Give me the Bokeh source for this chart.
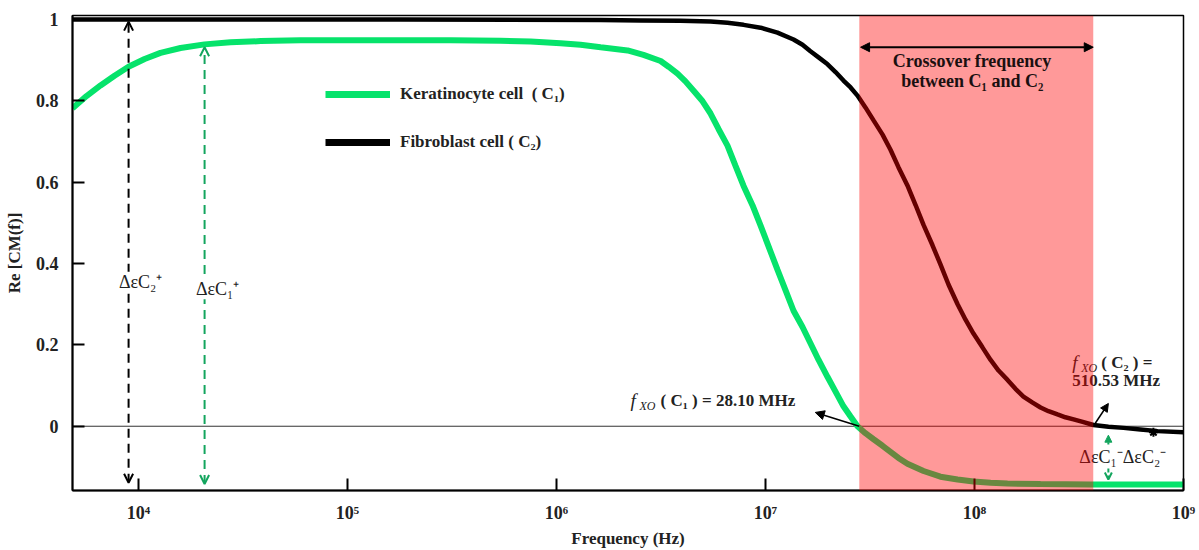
from bokeh.plotting import figure
from bokeh.models import (Range1d, FixedTicker, CustomJSTickFormatter, Legend, LegendItem,
                          Label, Arrow, OpenHead, NormalHead, BoxAnnotation, Span)
from bokeh.embed import file_html
from bokeh.resources import INLINE

# ---- data (frequency as log10(Hz)) ----
log_freq_c1 = [3.684, 3.751, 3.818, 3.885, 3.952, 4.029, 4.105, 4.201, 4.316, 4.440,
               4.584, 4.775, 5.014, 5.493, 5.732, 5.876, 6.019, 6.115, 6.211, 6.340,
               6.416, 6.498, 6.536, 6.579, 6.617, 6.656, 6.699, 6.737, 6.775, 6.818,
               6.856, 6.895, 6.938, 6.976, 7.014, 7.057, 7.096, 7.134, 7.177, 7.215,
               7.254, 7.297, 7.335, 7.373, 7.407, 7.440, 7.478, 7.517, 7.560, 7.598,
               7.636, 7.679, 7.756, 7.837, 7.919, 7.995, 8.077, 8.158, 8.316, 8.555, 9.000]
re_cm_c1 = [0.782, 0.812, 0.838, 0.862, 0.884, 0.903, 0.918, 0.930, 0.939, 0.944,
            0.947, 0.949, 0.949, 0.949, 0.948, 0.946, 0.942, 0.938, 0.932, 0.924,
            0.913, 0.898, 0.884, 0.867, 0.848, 0.825, 0.799, 0.769, 0.731, 0.690,
            0.641, 0.591, 0.543, 0.494, 0.443, 0.385, 0.334, 0.284, 0.244, 0.204,
            0.163, 0.121, 0.085, 0.049, 0.024, 0.000, -0.017, -0.032, -0.048, -0.063,
            -0.078, -0.092, -0.110, -0.124, -0.131, -0.136, -0.139, -0.141, -0.142, -0.143, -0.143]

log_freq_c2 = [3.684, 5.254, 6.211, 6.402, 6.593, 6.737, 6.818, 6.895, 6.976, 7.057,
               7.134, 7.177, 7.215, 7.254, 7.297, 7.335, 7.373, 7.407, 7.440, 7.478,
               7.517, 7.560, 7.598, 7.636, 7.679, 7.718, 7.756, 7.799, 7.837, 7.876,
               7.919, 7.957, 7.995, 8.038, 8.077, 8.115, 8.158, 8.196, 8.234, 8.278,
               8.316, 8.354, 8.397, 8.435, 8.474, 8.522, 8.569, 8.641, 8.713, 8.794, 8.876, 9.000]
re_cm_c2 = [1.000, 1.000, 0.999, 0.998, 0.997, 0.995, 0.992, 0.987, 0.980, 0.968,
            0.951, 0.938, 0.922, 0.907, 0.890, 0.871, 0.850, 0.833, 0.813, 0.784,
            0.752, 0.717, 0.680, 0.637, 0.592, 0.544, 0.495, 0.445, 0.398, 0.348,
            0.300, 0.262, 0.228, 0.194, 0.163, 0.137, 0.114, 0.092, 0.073, 0.058,
            0.046, 0.037, 0.029, 0.022, 0.017, 0.010, 0.003, -0.001, -0.004, -0.008, -0.012, -0.015]

freq_c1 = [10 ** v for v in log_freq_c1]
freq_c2 = [10 ** v for v in log_freq_c2]

x_ticks = [1e4, 1e5, 1e6, 1e7, 1e8, 1e9]
y_ticks = [0, 0.2, 0.4, 0.6, 0.8, 1]

fxo_c1_hz = 28.10e6          # crossover of C1 (left edge of band)
band_right_hz = 3.7e8        # right edge of shaded band (as drawn)
de_c2_plus_hz = 8.96e3       # position of ΔεC2+ arrow
de_c1_plus_hz = 2.07e4       # position of ΔεC1+ arrow
de_minus_hz = 4.37e8         # position of ΔεC1- arrow
de_c2_minus_hz = 7.18e8      # ΔεC2- marker
c1_high, c1_low = 0.932, -0.142
c2_high, c2_low = 0.995, -0.139

FONT = "Liberation Serif"
GREEN = "#06e36b"
DGREEN = "#13a55e"
TXT = "#222222"
NAN = float("nan")

p = figure(width=1199, height=550, x_axis_type="log",
           x_range=Range1d(4.83e3, 1e9), y_range=Range1d(-0.158, 1.01),
           output_backend="svg", toolbar_location=None,
           min_border_left=72, min_border_right=16, min_border_top=15, min_border_bottom=54)
p.grid.visible = False
p.outline_line_color = "black"
p.outline_line_width = 1.5
p.background_fill_color = "white"

# zero line
p.add_layout(Span(location=0, dimension="width", line_color="#333333", line_width=1, level="underlay"))

g = p.line(freq_c1, re_cm_c1, line_color=GREEN, line_width=6)
b = p.line(freq_c2, re_cm_c2, line_color="black", line_width=4.5)
# legend swatches (thicker, nothing drawn in the plot)
g_leg = p.line([NAN], [NAN], line_color=GREEN, line_width=7)
b_leg = p.line([NAN], [NAN], line_color="black", line_width=7)

# axes
for ax in (p.xaxis[0], p.yaxis[0]):
    ax.axis_line_width = 2
    ax.axis_line_color = "black"
    ax.major_tick_in = 12
    ax.major_tick_out = 0
    ax.major_tick_line_width = 2
    ax.minor_tick_line_color = None
    ax.major_label_text_font = FONT
    ax.major_label_text_font_style = "bold"
    ax.major_label_text_font_size = "18px"
    ax.major_label_text_color = TXT
    ax.axis_label_text_font = FONT
    ax.axis_label_text_font_style = "bold"
    ax.axis_label_text_font_size = "17px"
    ax.axis_label_text_color = TXT
    ax.major_label_standoff = 12

p.xaxis.ticker = FixedTicker(ticks=x_ticks, minor_ticks=[])
p.xaxis.formatter = CustomJSTickFormatter(code="""
const sup = {"0":"\u2070","1":"\u00b9","2":"\u00b2","3":"\u00b3","4":"\u2074","5":"\u2075",
             "6":"\u2076","7":"\u2077","8":"\u2078","9":"\u2079"};
const e = String(Math.round(Math.log10(tick)));
return "10" + e.split("").map(c => sup[c]).join("");
""")
p.xaxis.axis_label = "Frequency (Hz)"
p.xaxis.axis_label_standoff = 3
p.yaxis.ticker = FixedTicker(ticks=y_ticks, minor_ticks=[])
p.yaxis.formatter = CustomJSTickFormatter(code="return String(tick);")
p.yaxis.axis_label = "Re [CM(f)]"
p.yaxis.axis_label_standoff = 9
p.yaxis.major_label_standoff = 14

# legend
legend = Legend(items=[LegendItem(label="Keratinocyte cell  ( C\u2081)", renderers=[g_leg]),
                       LegendItem(label="Fibroblast cell ( C\u2082)", renderers=[b_leg])],
                location=(253, 338), glyph_width=65, glyph_height=20, spacing=28,
                label_standoff=10, padding=0, margin=0, border_line_alpha=0,
                background_fill_alpha=0, label_text_font=FONT, label_text_font_style="bold",
                label_text_font_size="17px", label_text_color=TXT)
p.add_layout(legend)

def lab(x, y, text, size="17px", style="bold", color=TXT, align="center",
        bg=None, xo=0, yo=0, level="annotation"):
    l = Label(x=x, y=y, text=text, text_font=FONT, text_font_size=size, text_font_style=style,
              text_color=color, text_align=align, text_baseline="middle",
              x_offset=xo, y_offset=yo, level=level)
    if bg:
        l.background_fill_color = bg
    p.add_layout(l)
    return l

# dashed double arrows (ΔεC+)
p.add_layout(Arrow(x_start=de_c2_plus_hz, y_start=c2_low, x_end=de_c2_plus_hz, y_end=c2_high,
                   line_color="black", line_width=2, line_dash="9 6",
                   start=OpenHead(size=9, line_width=2, line_color="black"),
                   end=OpenHead(size=9, line_width=2, line_color="black")))
p.add_layout(Arrow(x_start=de_c1_plus_hz, y_start=c1_low, x_end=de_c1_plus_hz, y_end=c1_high,
                   line_color=DGREEN, line_width=2, line_dash="9 6",
                   start=OpenHead(size=9, line_width=2, line_color=DGREEN),
                   end=OpenHead(size=9, line_width=2, line_color=DGREEN)))
lab(de_c2_plus_hz, 0.355, "\u0394\u03b5C\u2082\u207a", size="18px", style="normal", bg="white", xo=12)
lab(de_c1_plus_hz, 0.337, "\u0394\u03b5C\u2081\u207a", size="18px", style="normal", bg="white", xo=13)

# fXO(C1) annotation
p.add_layout(Arrow(x_start=fxo_c1_hz, y_start=0, x_end=1.73e7, y_end=0.034,
                   line_color="black", line_width=1.5,
                   end=NormalHead(size=9, line_color="black", fill_color="black")))
lab(2.26e6, 0.063, "f", size="19px", style="italic", align="left")
lab(2.26e6, 0.063, "XO", size="12px", style="italic", align="left", xo=9, yo=-5)
lab(2.26e6, 0.063, "( C\u2081 ) = 28.10 MHz", align="left", xo=30)

# fXO(C2) annotation (under the band)
p.add_layout(Arrow(x_start=band_right_hz, y_start=0, x_end=de_minus_hz, y_end=0.056,
                   line_color="black", line_width=1.5,
                   end=NormalHead(size=8, line_color="black", fill_color="black")))
lab(band_right_hz, 0.156, "f", size="19px", style="italic", align="left", xo=-21)
lab(band_right_hz, 0.156, "XO", size="12px", style="italic", align="left", xo=-12, yo=-5)
lab(band_right_hz, 0.156, "( C\u2082 ) =", align="left", xo=8)
lab(band_right_hz, 0.112, "510.53 MHz", align="left", xo=-21)

# ΔεC- annotations
p.add_layout(Arrow(x_start=de_minus_hz, y_start=-0.131, x_end=de_minus_hz, y_end=-0.022,
                   line_color=DGREEN, line_width=2, line_dash="4 3",
                   start=OpenHead(size=7, line_width=2, line_color=DGREEN),
                   end=NormalHead(size=7, line_color=DGREEN, fill_color=DGREEN)))
lab(de_minus_hz, -0.075, "\u0394\u03b5C\u2081\u207b\u0394\u03b5C\u2082\u207b", size="18px",
    style="normal", bg="white", align="left", xo=-29)
p.scatter([de_c2_minus_hz], [-0.015], marker="asterisk", size=9, line_color="black", line_width=2)

# shaded crossover band (on top of curves)
p.add_layout(BoxAnnotation(left=fxo_c1_hz, right=band_right_hz, fill_color="red",
                           fill_alpha=0.4, line_alpha=0, level="overlay"))
p.add_layout(Arrow(x_start=2.85e7, y_start=0.932, x_end=band_right_hz, y_end=0.932,
                   line_color="black", line_width=2, level="overlay",
                   start=NormalHead(size=9, line_color="black", fill_color="black"),
                   end=NormalHead(size=9, line_color="black", fill_color="black")))
band_mid = (fxo_c1_hz * band_right_hz) ** 0.5
lab(band_mid, 0.898, "Crossover frequency", size="18px", level="overlay", color="#1a1010", xo=-4)
lab(band_mid, 0.849, "between C\u2081 and C\u2082", size="18px", level="overlay", color="#1a1010", xo=-4)

open("out.html", "w").write(file_html(p, INLINE))
